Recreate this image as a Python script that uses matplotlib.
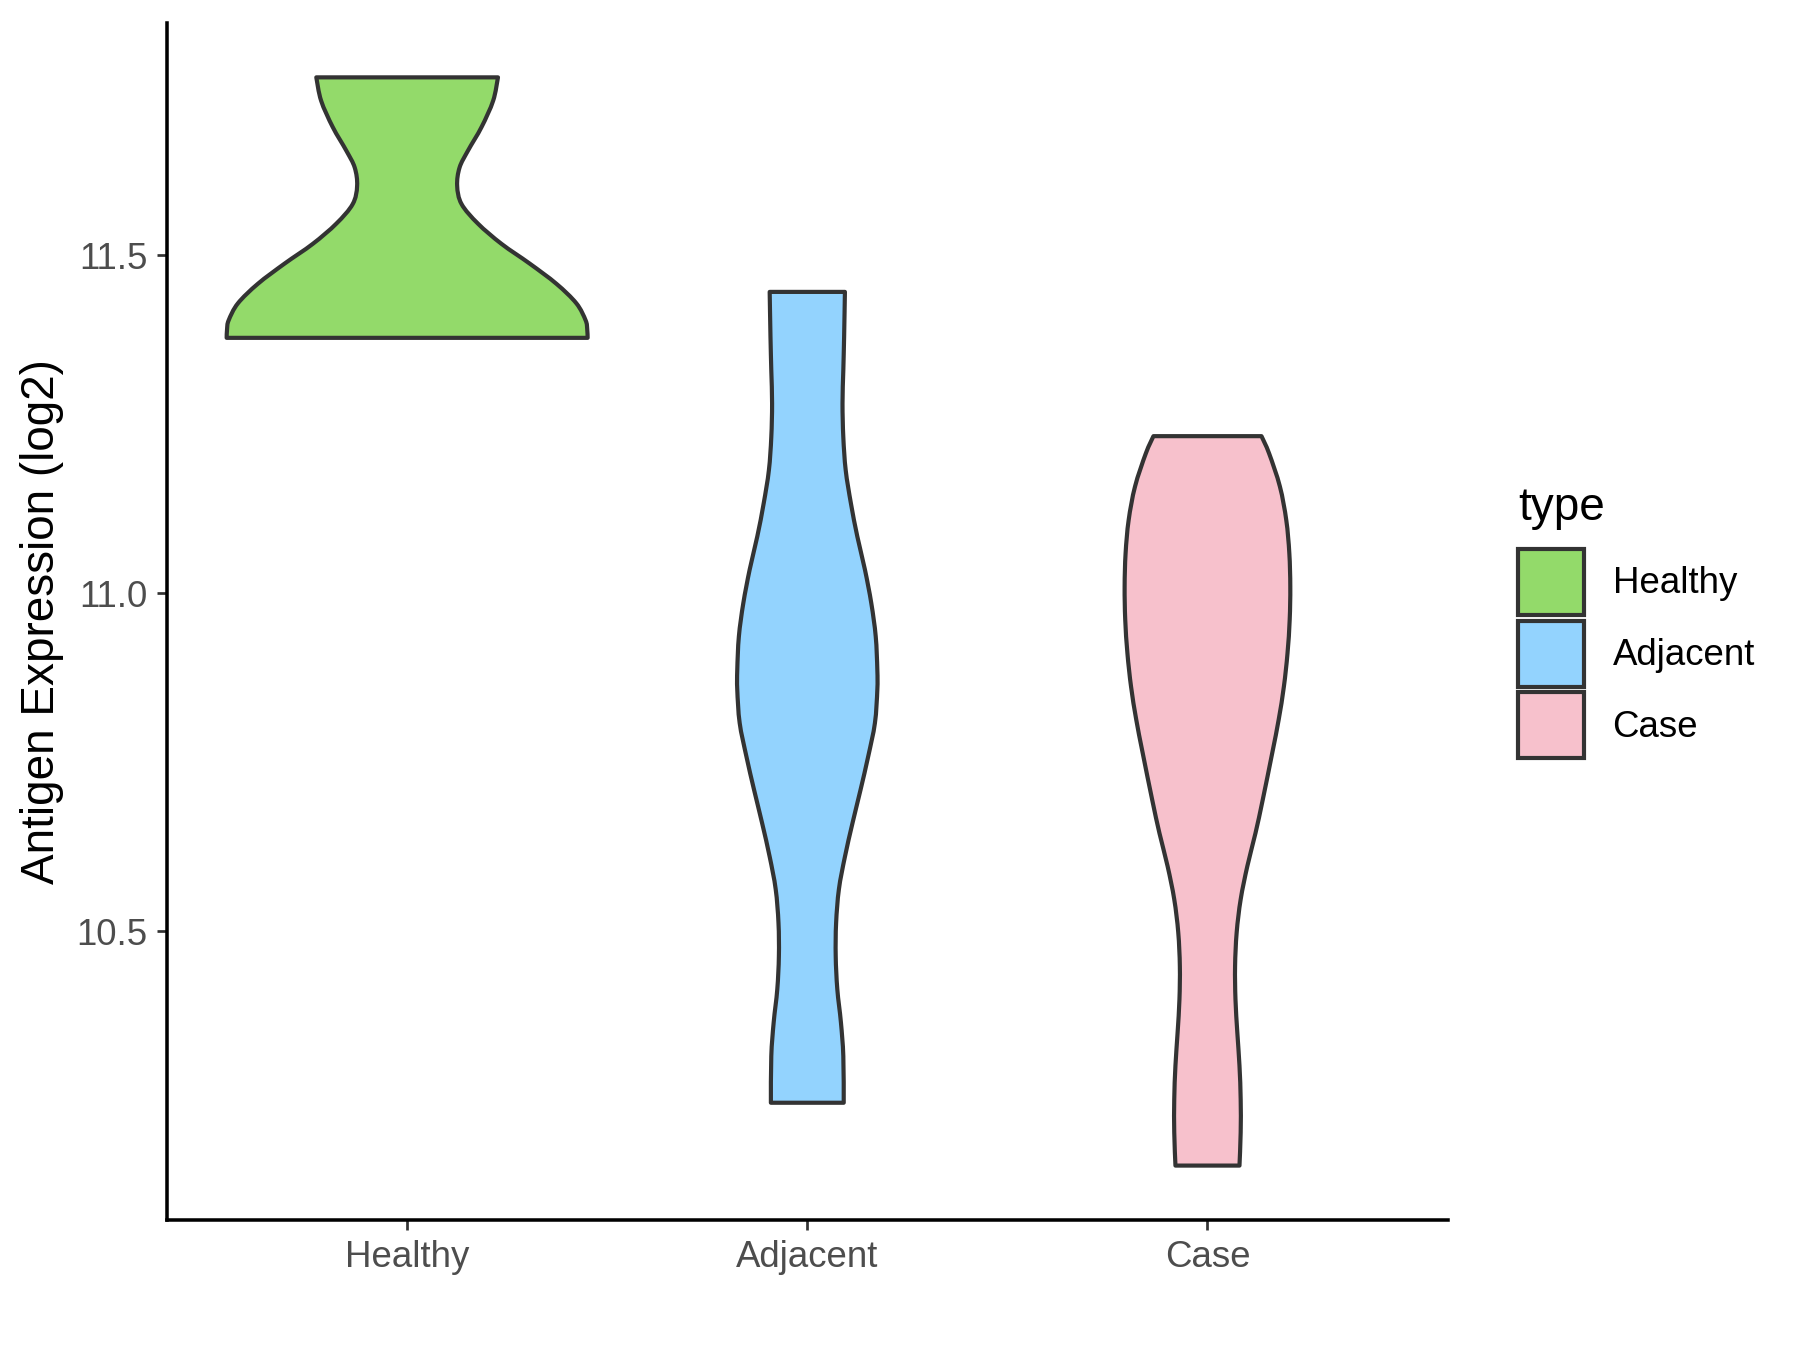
import numpy as np
import matplotlib.pyplot as plt
from matplotlib.patches import Patch, PathPatch
from matplotlib.path import Path

plt.rcParams['font.family'] = ['Liberation Sans', 'DejaVu Sans']

groups = ["Healthy", "Adjacent", "Case"]
colors = ["#93DA6A", "#93D3FE", "#F7C1CC"]

# violin outlines: expression level and half width
healthy_y = [11.378, 11.391, 11.404, 11.429, 11.458, 11.488, 11.517, 11.547,
             11.576, 11.603, 11.630, 11.655, 11.690, 11.729, 11.7635]
healthy_w = [0.451, 0.450, 0.446, 0.423, 0.373, 0.306, 0.236, 0.177,
             0.136, 0.125, 0.131, 0.152, 0.186, 0.215, 0.227]

adjacent_y = [10.246, 10.315, 10.365, 10.414, 10.463, 10.512, 10.562, 10.610,
              10.660, 10.709, 10.758, 10.808, 10.857, 10.887, 10.936, 10.985,
              11.035, 11.084, 11.133, 11.182, 11.231, 11.281, 11.330, 11.379,
              11.446]
adjacent_w = [0.091, 0.090, 0.084, 0.075, 0.071, 0.072, 0.079, 0.094,
              0.113, 0.133, 0.152, 0.169, 0.175, 0.175, 0.171, 0.160,
              0.144, 0.125, 0.109, 0.096, 0.090, 0.088, 0.090, 0.092,
              0.094]

case_y = [10.153, 10.202, 10.251, 10.301, 10.350, 10.399, 10.448, 10.498,
          10.547, 10.596, 10.645, 10.694, 10.764, 10.813, 10.862,
          10.911, 10.961, 11.010, 11.059, 11.108, 11.158, 11.207, 11.2325]
case_w = [0.080, 0.083, 0.083, 0.080, 0.0746, 0.070, 0.069, 0.073,
          0.083, 0.0996, 0.120, 0.138, 0.162, 0.178, 0.191,
          0.200, 0.2055, 0.207, 0.2046, 0.197, 0.181, 0.154, 0.135]

profiles = [(healthy_y, healthy_w), (adjacent_y, adjacent_w), (case_y, case_w)]


def smooth_side(pts):
    # catmull-rom through the points, as cubic bezier segments
    verts, codes = [], []
    n = len(pts)
    for k in range(n - 1):
        p0 = pts[max(k - 1, 0)]
        p1 = pts[k]
        p2 = pts[k + 1]
        p3 = pts[min(k + 2, n - 1)]
        verts += [p1 + (p2 - p0) / 6, p2 - (p3 - p1) / 6, p2]
        codes += [Path.CURVE4] * 3
    return verts, codes


def violin_path(center, ys, ws):
    ys = np.array(ys)
    ws = np.array(ws)
    left = np.column_stack([center - ws, ys])
    right = np.column_stack([center + ws, ys])[::-1]
    verts = [left[0]]
    codes = [Path.MOVETO]
    v, c = smooth_side(left)
    verts += v
    codes += c
    verts.append(right[0])
    codes.append(Path.LINETO)
    v, c = smooth_side(right)
    verts += v
    codes += c
    verts.append(left[0])
    codes.append(Path.CLOSEPOLY)
    return Path(verts, codes)


fig = plt.figure(figsize=(12, 9), dpi=150)
ax = fig.add_axes([0.0928, 0.0963, 0.7114, 0.8867])

for i, (ys, ws) in enumerate(profiles):
    ax.add_patch(PathPatch(violin_path(i, ys, ws), facecolor=colors[i],
                           edgecolor='#333333', linewidth=2.0,
                           joinstyle='round'))

lo = min(min(p[0]) for p in profiles)
hi = max(max(p[0]) for p in profiles)
pad = (hi - lo) * 0.05
ax.set_ylim(lo - pad, hi + pad)
ax.set_xlim(-0.6, 2.6)

ax.set_xticks(range(3))
ax.set_xticklabels(groups)
ax.set_yticks([10.5, 11.0, 11.5])
ax.set_yticklabels(["10.5", "11.0", "11.5"])
ax.tick_params(axis='both', labelsize=17.6, labelcolor='#4D4D4D',
               color='#333333', length=5, width=1.3, pad=4.5)

for s in ['top', 'right']:
    ax.spines[s].set_visible(False)
for s in ['left', 'bottom']:
    ax.spines[s].set_linewidth(1.7)
    ax.spines[s].set_color('black')

ax.set_ylabel("Antigen Expression (log2)", fontsize=22, labelpad=6)

handles = [Patch(facecolor=c, edgecolor='#333333', linewidth=2.0, label=g)
           for c, g in zip(colors, groups)]
leg = fig.legend(handles=handles, title="type", loc='upper left',
                 bbox_to_anchor=(1518 / 1800, 1 - 486 / 1350),
                 frameon=False, fontsize=17.6, title_fontsize=22,
                 handlelength=1.8, handleheight=2.39, labelspacing=0.16,
                 handletextpad=0.78, borderpad=0, borderaxespad=0)
leg._legend_box.align = "left"
leg._legend_box.sep = 9

fig.savefig('out.png', dpi=150)
